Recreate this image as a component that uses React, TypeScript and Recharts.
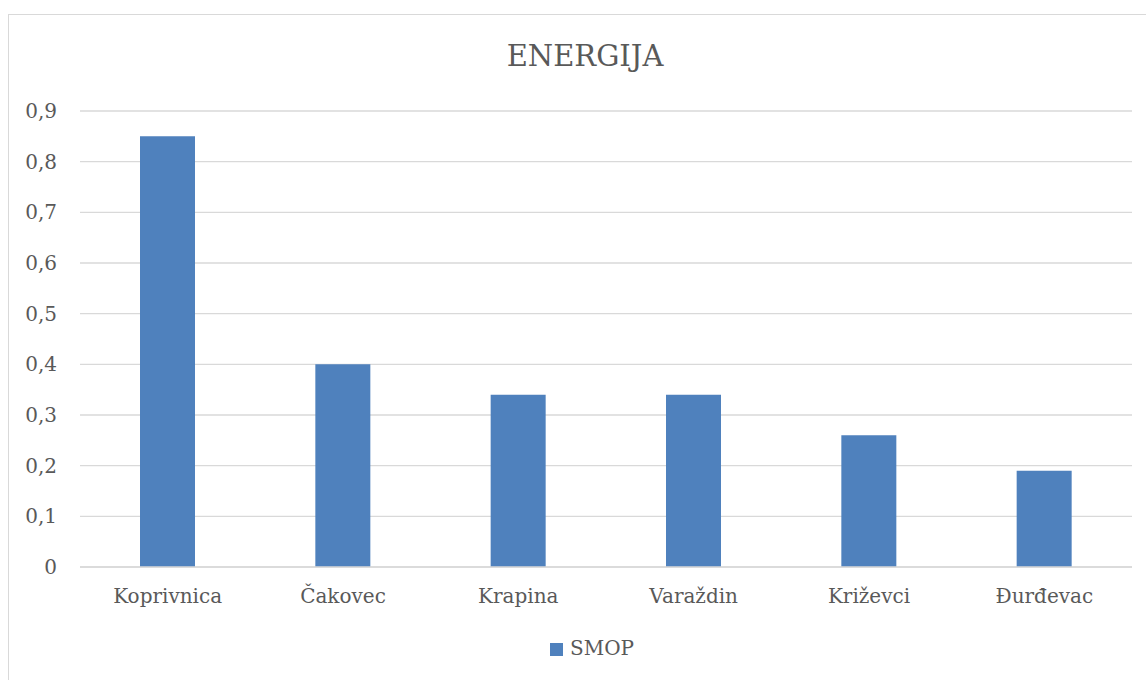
import { Bar, BarChart, CartesianGrid, Legend, XAxis, YAxis } from "recharts";

const gradovi = ["Koprivnica", "Čakovec", "Krapina", "Varaždin", "Križevci", "Đurđevac"];
const smop = [0.85, 0.4, 0.34, 0.34, 0.26, 0.19];
const yTicks = [0, 0.1, 0.2, 0.3, 0.4, 0.5, 0.6, 0.7, 0.8, 0.9];

const data = gradovi.map((grad, i) => ({ grad, smop: smop[i] }));

const FONT = "'DejaVu Serif', serif";
const TEXT = "#595959";

function formatBroj(value: number) {
  return String(Number(value.toFixed(2))).replace(".", ",");
}

export default function App() {
  return (
    <div
      style={{
        position: "absolute",
        left: 8,
        top: 14,
        width: 1150,
        height: 700,
        border: "1px solid #d9d9d9",
        fontFamily: FONT,
        background: "#fff",
      }}
    >
      <div
        style={{
          position: "absolute",
          left: 0,
          top: 23,
          width: 1152,
          textAlign: "center",
          fontSize: 29,
          color: TEXT,
          lineHeight: "36px",
        }}
      >
        ENERGIJA
      </div>
      <BarChart
        width={1137}
        height={665}
        data={data}
        margin={{ top: 96, right: 14, left: 0, bottom: 59 }}
      >
        <CartesianGrid vertical={false} stroke="#d9d9d9" strokeWidth={1.3} />
        <XAxis
          dataKey="grad"
          height={30}
          tickLine={false}
          axisLine={{ stroke: "#d9d9d9", strokeWidth: 1.3 }}
          tickSize={0}
          tickMargin={22}
          tick={{ fill: TEXT, fontSize: 20, fontFamily: FONT }}
          interval={0}
        />
        <YAxis
          width={71}
          domain={[0, 0.9]}
          ticks={yTicks}
          tickLine={false}
          axisLine={false}
          tickSize={0}
          tickMargin={23}
          tick={{ fill: TEXT, fontSize: 20, fontFamily: FONT }}
          tickFormatter={(v) => formatBroj(Number(v))}
        />
        <Legend
          iconType="square"
          iconSize={13}
          wrapperStyle={{
            left: 541,
            top: 621,
            width: "auto",
            fontSize: 20,
            fontFamily: FONT,
          }}
          formatter={(value) => (
            <span style={{ color: TEXT, marginLeft: 3 }}>{value}</span>
          )}
        />
        <Bar
          dataKey="smop"
          name="SMOP"
          fill="#4F81BD"
          barSize={55}
          isAnimationActive={false}
        />
      </BarChart>
    </div>
  );
}
